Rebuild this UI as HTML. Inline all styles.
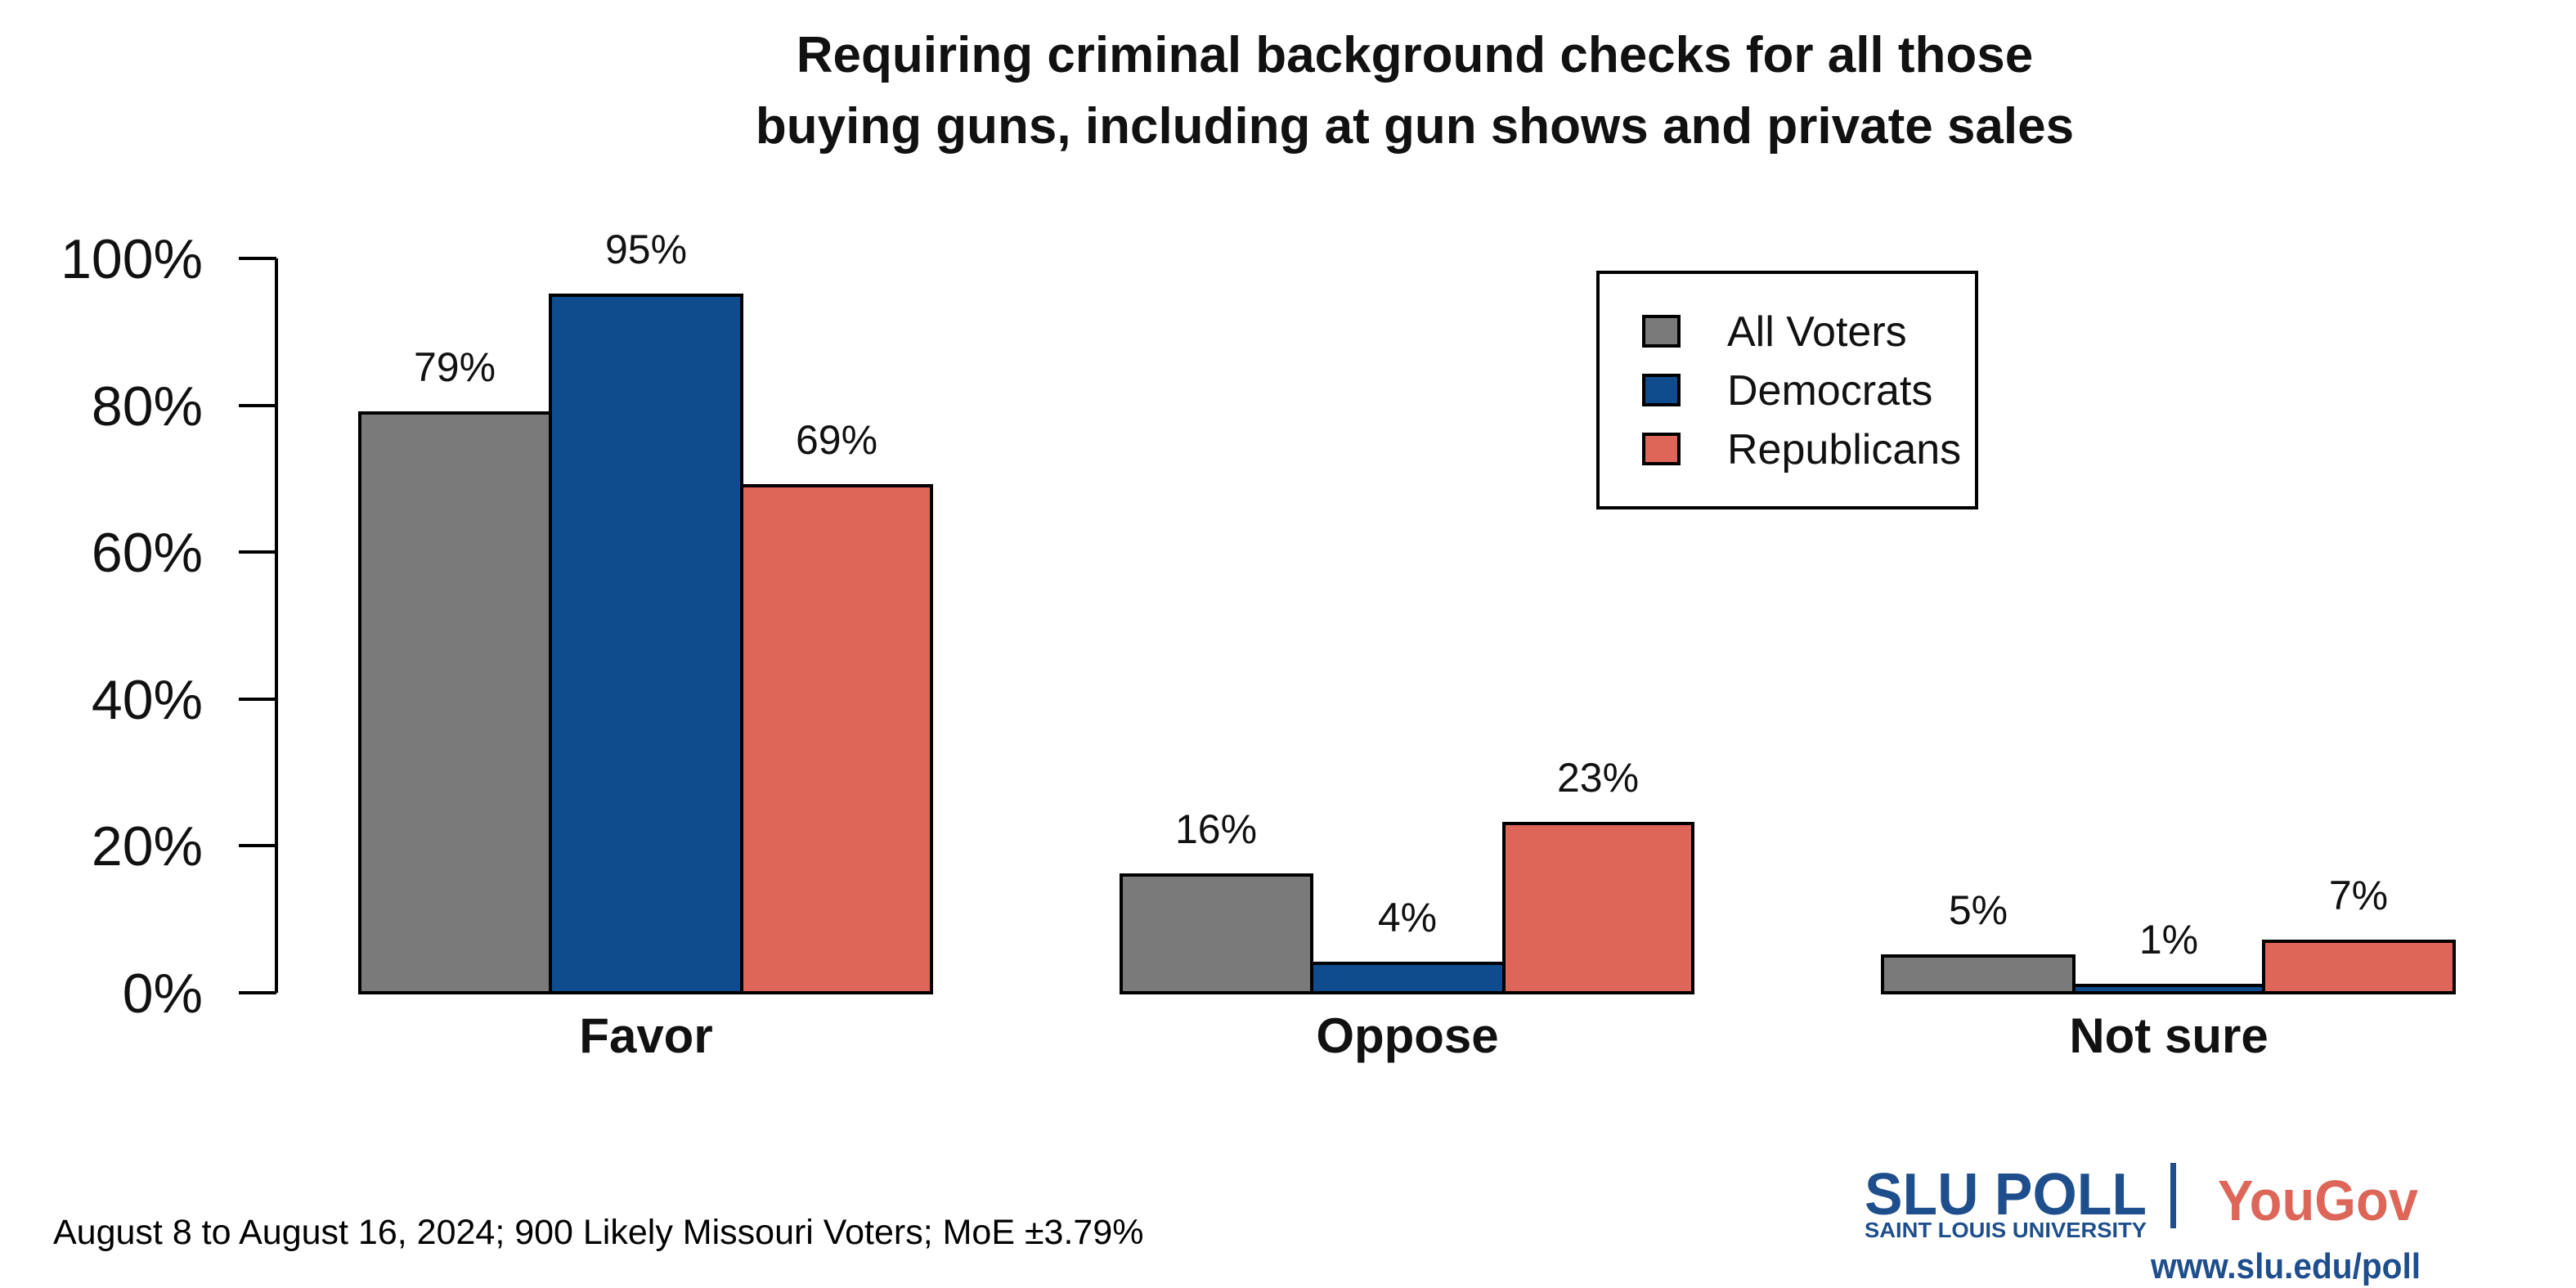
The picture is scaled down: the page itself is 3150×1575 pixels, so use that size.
<!DOCTYPE html>
<html><head><meta charset="utf-8"><style>
html,body{margin:0;padding:0;background:#fff}
svg{display:block}
text{font-family:"Liberation Sans",sans-serif}
</style></head><body>
<svg width="3150" height="1575" viewBox="0 0 3150 1575" xmlns="http://www.w3.org/2000/svg">
<rect width="3150" height="1575" fill="#fff"/>
<text x="1730" y="88" font-size="62" text-anchor="middle" font-weight="bold" fill="#111">Requiring criminal background checks for all those</text>
<text x="1730" y="175" font-size="62" text-anchor="middle" font-weight="bold" fill="#111">buying guns, including at gun shows and private sales</text>
<g stroke="#000" stroke-width="4" fill="none">
<line x1="338" y1="316" x2="338" y2="1214"/>
<line x1="292" y1="316" x2="338" y2="316"/>
<line x1="292" y1="496" x2="338" y2="496"/>
<line x1="292" y1="675" x2="338" y2="675"/>
<line x1="292" y1="855" x2="338" y2="855"/>
<line x1="292" y1="1034" x2="338" y2="1034"/>
<line x1="292" y1="1214" x2="338" y2="1214"/>
</g>
<g font-size="68" text-anchor="end" fill="#111">
<text x="248" y="340">100%</text>
<text x="248" y="520">80%</text>
<text x="248" y="699">60%</text>
<text x="248" y="879">40%</text>
<text x="248" y="1058">20%</text>
<text x="248" y="1238">0%</text>
</g>
<g stroke="#000" stroke-width="4">
<rect x="440" y="505" width="233" height="709" fill="#7a7a7a"/>
<rect x="673" y="361" width="234" height="853" fill="#0f4c8e"/>
<rect x="907" y="594" width="232" height="620" fill="#dd6659"/>
<rect x="1371" y="1070" width="233" height="144" fill="#7a7a7a"/>
<rect x="1604" y="1178" width="235" height="36" fill="#0f4c8e"/>
<rect x="1839" y="1007" width="231" height="207" fill="#dd6659"/>
<rect x="2302" y="1169" width="234" height="45" fill="#7a7a7a"/>
<rect x="2536" y="1205" width="232" height="9" fill="#0f4c8e"/>
<rect x="2768" y="1151" width="233" height="63" fill="#dd6659"/>
</g>
<g font-size="50" text-anchor="middle" fill="#111">
<text x="556" y="466">79%</text>
<text x="790" y="322">95%</text>
<text x="1023" y="555">69%</text>
<text x="1487" y="1031">16%</text>
<text x="1721" y="1139">4%</text>
<text x="1954" y="968">23%</text>
<text x="2419" y="1130">5%</text>
<text x="2652" y="1166">1%</text>
<text x="2884" y="1112">7%</text>
</g>
<g font-size="60" font-weight="bold" text-anchor="middle" fill="#111">
<text x="790" y="1287">Favor</text>
<text x="1721" y="1287">Oppose</text>
<text x="2652" y="1287">Not sure</text>
</g>
<rect x="1954" y="333" width="463" height="288" fill="#fff" stroke="#000" stroke-width="4"/>
<g stroke="#000" stroke-width="4">
<rect x="2010" y="387" width="43" height="36" fill="#7a7a7a"/>
<rect x="2010" y="459" width="43" height="36" fill="#0f4c8e"/>
<rect x="2010" y="531" width="43" height="36" fill="#dd6659"/>
</g>
<g font-size="52" fill="#111">
<text x="2112" y="423">All Voters</text>
<text x="2112" y="495">Democrats</text>
<text x="2112" y="567">Republicans</text>
</g>
<text x="65" y="1521" font-size="43" fill="#000">August 8 to August 16, 2024; 900 Likely Missouri Voters; MoE ±3.79%</text>
<text x="2280" y="1485" font-size="72" fill="#1e4e8c" font-weight="bold" textLength="345" lengthAdjust="spacingAndGlyphs">SLU POLL</text>
<text x="2280" y="1513" font-size="26" fill="#1e4e8c" font-weight="bold" textLength="345" lengthAdjust="spacingAndGlyphs">SAINT LOUIS UNIVERSITY</text>
<rect x="2654" y="1422" width="7" height="80" fill="#1e4e8c"/>
<text x="2712" y="1492" font-size="70" fill="#dd6659" font-weight="bold" textLength="245" lengthAdjust="spacingAndGlyphs">YouGov</text>
<text x="2630" y="1563" font-size="44" fill="#1e4e8c" font-weight="bold" textLength="330" lengthAdjust="spacingAndGlyphs">www.slu.edu/poll</text>
</svg>
</body></html>
